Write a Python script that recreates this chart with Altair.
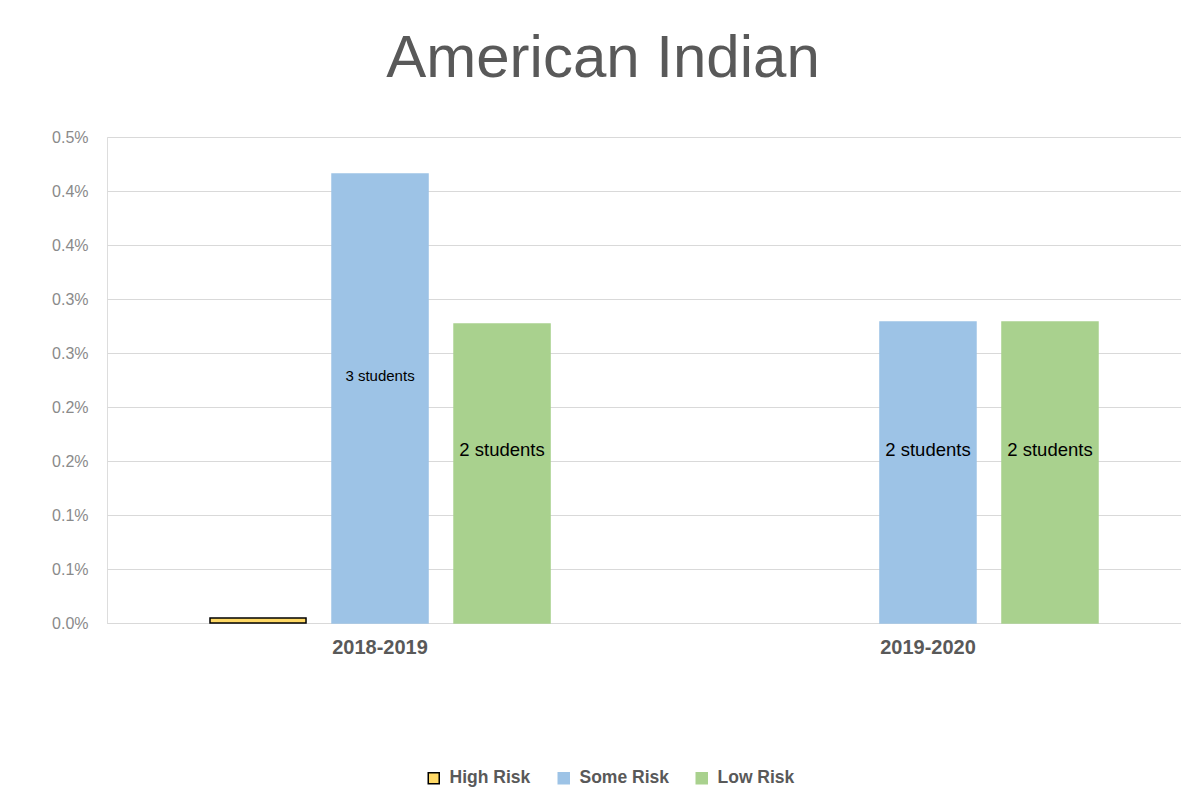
import altair as alt
import pandas as pd

# ---- data ----
years = ["2018-2019", "2018-2019", "2018-2019", "2019-2020", "2019-2020"]
risks = ["High Risk", "Some Risk", "Low Risk", "Some Risk", "Low Risk"]
values = [0.000046, 0.004157, 0.002769, 0.002787, 0.002787]
labels = ["", "3 students", "2 students", "2 students", "2 students"]

risk_order = ["High Risk", "Some Risk", "Low Risk"]
risk_fill = ["#FFD966", "#9DC3E6", "#A9D18E"]
risk_stroke = ["#000000", "#9DC3E6", "#A9D18E"]

tick_values = [0.0, 0.0005, 0.001, 0.0015, 0.002, 0.0025, 0.003, 0.0035, 0.004, 0.0045]
tick_labels = ["0.0%", "0.1%", "0.1%", "0.2%", "0.2%", "0.3%", "0.3%", "0.4%", "0.4%", "0.5%"]

df = pd.DataFrame({"year": years, "risk": risks, "value": values, "label": labels})

label_expr = "[" + ",".join("'%s'" % t for t in tick_labels) + "][round(datum.value/0.0005)]"

FONT = "Liberation Sans"

x_enc = alt.X(
    "year:N",
    title=None,
    scale=alt.Scale(paddingInner=0.332, paddingOuter=0.146, align=0.5625),
    axis=alt.Axis(
        labelAngle=0, labelFontSize=20, labelFontWeight="bold", labelColor="#595959",
        labelFont=FONT, labelPadding=14, ticks=False, domainColor="#d9d9d9",
        domainWidth=1.2,
    ),
)
xoff_enc = alt.XOffset(
    "risk:N",
    scale=alt.Scale(domain=risk_order, paddingInner=0.213, paddingOuter=0.1065),
)

bars = alt.Chart(df).mark_bar(strokeWidth=1.5).encode(
    x=x_enc,
    xOffset=xoff_enc,
    y=alt.Y(
        "value:Q",
        title=None,
        scale=alt.Scale(domain=[0, 0.0045], nice=False),
        axis=alt.Axis(
            values=tick_values, labelExpr=label_expr, labelFontSize=16,
            labelColor="#8a8a8a", labelFont=FONT, labelPadding=19,
            ticks=False, domain=False, gridColor="#d9d9d9", gridWidth=1.2,
        ),
    ),
    color=alt.Color(
        "risk:N",
        scale=alt.Scale(domain=risk_order, range=risk_fill),
        title=None,
        legend=alt.Legend(
            orient="none", legendX=318, legendY=632, direction="horizontal",
            symbolType="square", symbolSize=121, symbolStrokeWidth=1.5,
            labelFontSize=17.5, labelFontWeight="bold", labelColor="#595959",
            labelFont=FONT, labelOffset=7, columnPadding=24, padding=0,
        ),
    ),
    stroke=alt.Stroke(
        "risk:N",
        scale=alt.Scale(domain=risk_order, range=risk_stroke),
        title=None,
    ),
)

text = alt.Chart(df).transform_filter(
    alt.datum.label != ""
).transform_calculate(
    mid="datum.value / 2"
).mark_text(font=FONT, color="#000000", dy=-23).encode(
    x=x_enc,
    xOffset=xoff_enc,
    y=alt.Y("mid:Q"),
    text="label:N",
    size=alt.condition(alt.datum.label == "3 students", alt.value(15), alt.value(18.5)),
)

chart = (bars + text).properties(
    width=1074,
    height=486,
    padding={"left": 99, "top": 129, "right": 0, "bottom": 170},
    autosize="none",
    title=alt.Title(
        "American Indian", fontSize=60, font=FONT, fontWeight="normal",
        color="#595959", anchor="middle", dx=-41, offset=39,
    ),
).configure_view(stroke=None).configure(background="white")

chart.save("out.html", embed_options={"renderer": "svg", "actions": False})
